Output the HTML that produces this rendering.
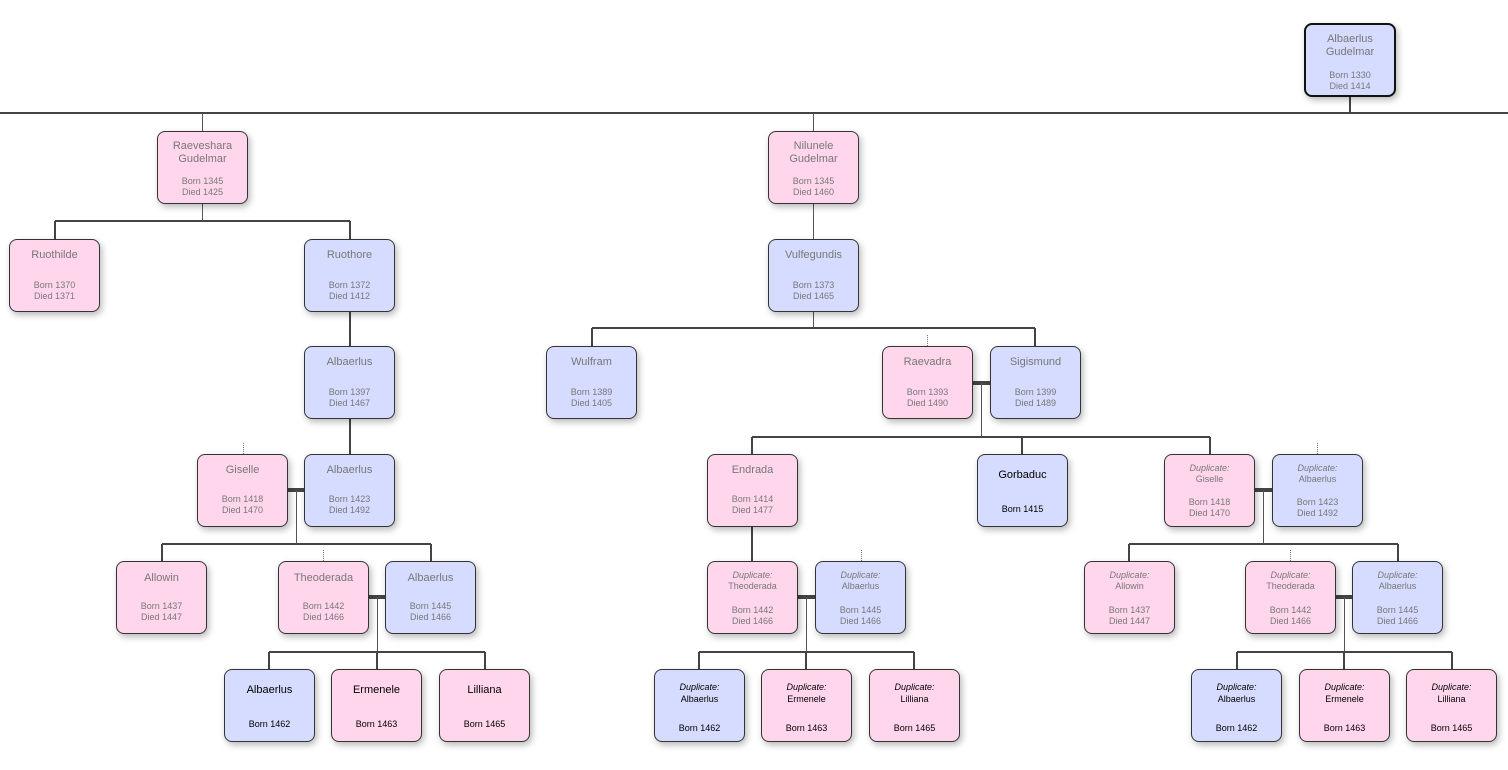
<!DOCTYPE html>
<html><head><meta charset="utf-8"><style>
body{margin:0;width:1508px;height:770px;background:#fff;position:relative;overflow:hidden;font-family:"Liberation Sans",sans-serif}
.b{position:absolute;width:89px;height:71px;border:1px solid #333;border-radius:8px;box-shadow:2px 3px 7px rgba(0,0,0,.28);color:#777;text-align:center;box-sizing:content-box}
.p{background:#ffd6ec}.u{background:#d6dcff}
.k{color:#000}
.b div{position:absolute;left:0;width:100%;line-height:12px;white-space:nowrap}
.n{font-size:11px}.d{font-size:9px}.i{font-size:9px;font-style:italic}
svg{position:absolute;left:0;top:0}
</style></head><body>
<svg width="1508" height="770">
<g stroke="#444" stroke-width="2" fill="none">
<path d="M0 113H1508M1350 97V113"/>
<path d="M55 221H350M55 221V239M350 221V239"/>
<path d="M350 312V346M350 419V454"/>
<path d="M592 328H1035M592 328V346M1035 328V346"/>
<path d="M752 437H1210M752 437V454M1022 437V454M1210 437V454"/>
<path d="M162 544H431M162 544V561M431 544V561"/>
<path d="M269 652H485M269 652V669M377 652V669M485 652V669"/>
<path d="M752 527V561"/>
<path d="M699 652H914M699 652V669M806 652V669M914 652V669"/>
<path d="M1129 544H1398M1129 544V561M1398 544V561"/>
<path d="M1237 652H1452M1237 652V669M1344 652V669M1452 652V669"/>
</g>
<g stroke="#444" stroke-width="4">
<path d="M973 383H990M288 490H304M368 597H385M798 597H815M1255 490H1272M1336 597H1352"/>
</g>
<g stroke="#555" stroke-width="1">
<path d="M202.5 113V131M813.5 113V131M202.5 204V221M813.5 204V239M813.5 312V328M981.5 383V437M296.5 490V544M377.5 597V652M806.5 597V652M1263.5 490V544M1344.5 597V652"/>
</g>
<g stroke="#777" stroke-width="1" stroke-dasharray="1,1">
<path d="M927.5 335V346M243.5 443V454M323.5 550V561M861.5 550V561M1317.5 443V454M1290.5 550V561"/>
</g>
</svg>

<div class="b u" style="left:1304px;top:23px;border:2px solid #111;width:88px;height:70px"><div class="n" style="top:8px">Albaerlus</div><div class="n" style="top:21px">Gudelmar</div><div class="d" style="top:44px">Born 1330</div><div class="d" style="top:55px">Died 1414</div></div>

<div class="b p" style="left:157px;top:131px"><div class="n" style="top:8px">Raeveshara</div><div class="n" style="top:21px">Gudelmar</div><div class="d" style="top:43px">Born 1345</div><div class="d" style="top:54px">Died 1425</div></div>
<div class="b p" style="left:768px;top:131px"><div class="n" style="top:8px">Nilunele</div><div class="n" style="top:21px">Gudelmar</div><div class="d" style="top:43px">Born 1345</div><div class="d" style="top:54px">Died 1460</div></div>

<div class="b p" style="left:9px;top:239px"><div class="n" style="top:9px">Ruothilde</div><div class="d" style="top:39px">Born 1370</div><div class="d" style="top:50px">Died 1371</div></div>
<div class="b u" style="left:304px;top:239px"><div class="n" style="top:9px">Ruothore</div><div class="d" style="top:39px">Born 1372</div><div class="d" style="top:50px">Died 1412</div></div>
<div class="b u" style="left:768px;top:239px"><div class="n" style="top:9px">Vulfegundis</div><div class="d" style="top:39px">Born 1373</div><div class="d" style="top:50px">Died 1465</div></div>

<div class="b u" style="left:304px;top:346px"><div class="n" style="top:9px">Albaerlus</div><div class="d" style="top:39px">Born 1397</div><div class="d" style="top:50px">Died 1467</div></div>
<div class="b u" style="left:546px;top:346px"><div class="n" style="top:9px">Wulfram</div><div class="d" style="top:39px">Born 1389</div><div class="d" style="top:50px">Died 1405</div></div>
<div class="b p" style="left:882px;top:346px"><div class="n" style="top:9px">Raevadra</div><div class="d" style="top:39px">Born 1393</div><div class="d" style="top:50px">Died 1490</div></div>
<div class="b u" style="left:990px;top:346px"><div class="n" style="top:9px">Sigismund</div><div class="d" style="top:39px">Born 1399</div><div class="d" style="top:50px">Died 1489</div></div>

<div class="b p" style="left:197px;top:454px"><div class="n" style="top:9px">Giselle</div><div class="d" style="top:38px">Born 1418</div><div class="d" style="top:49px">Died 1470</div></div>
<div class="b u" style="left:304px;top:454px"><div class="n" style="top:9px">Albaerlus</div><div class="d" style="top:38px">Born 1423</div><div class="d" style="top:49px">Died 1492</div></div>
<div class="b p" style="left:707px;top:454px"><div class="n" style="top:9px">Endrada</div><div class="d" style="top:38px">Born 1414</div><div class="d" style="top:49px">Died 1477</div></div>
<div class="b u k" style="left:977px;top:454px"><div class="n" style="top:14px">Gorbaduc</div><div class="d" style="top:48px">Born 1415</div></div>
<div class="b p" style="left:1164px;top:454px"><div class="i" style="top:7px">Duplicate:</div><div class="d" style="top:18px">Giselle</div><div class="d" style="top:41px">Born 1418</div><div class="d" style="top:52px">Died 1470</div></div>
<div class="b u" style="left:1272px;top:454px"><div class="i" style="top:7px">Duplicate:</div><div class="d" style="top:18px">Albaerlus</div><div class="d" style="top:41px">Born 1423</div><div class="d" style="top:52px">Died 1492</div></div>

<div class="b p" style="left:116px;top:561px"><div class="n" style="top:10px">Allowin</div><div class="d" style="top:38px">Born 1437</div><div class="d" style="top:49px">Died 1447</div></div>
<div class="b p" style="left:278px;top:561px"><div class="n" style="top:10px">Theoderada</div><div class="d" style="top:38px">Born 1442</div><div class="d" style="top:49px">Died 1466</div></div>
<div class="b u" style="left:385px;top:561px"><div class="n" style="top:10px">Albaerlus</div><div class="d" style="top:38px">Born 1445</div><div class="d" style="top:49px">Died 1466</div></div>
<div class="b p" style="left:707px;top:561px"><div class="i" style="top:7px">Duplicate:</div><div class="d" style="top:18px">Theoderada</div><div class="d" style="top:42px">Born 1442</div><div class="d" style="top:53px">Died 1466</div></div>
<div class="b u" style="left:815px;top:561px"><div class="i" style="top:7px">Duplicate:</div><div class="d" style="top:18px">Albaerlus</div><div class="d" style="top:42px">Born 1445</div><div class="d" style="top:53px">Died 1466</div></div>
<div class="b p" style="left:1084px;top:561px"><div class="i" style="top:7px">Duplicate:</div><div class="d" style="top:18px">Allowin</div><div class="d" style="top:42px">Born 1437</div><div class="d" style="top:53px">Died 1447</div></div>
<div class="b p" style="left:1245px;top:561px"><div class="i" style="top:7px">Duplicate:</div><div class="d" style="top:18px">Theoderada</div><div class="d" style="top:42px">Born 1442</div><div class="d" style="top:53px">Died 1466</div></div>
<div class="b u" style="left:1352px;top:561px"><div class="i" style="top:7px">Duplicate:</div><div class="d" style="top:18px">Albaerlus</div><div class="d" style="top:42px">Born 1445</div><div class="d" style="top:53px">Died 1466</div></div>

<div class="b u k" style="left:224px;top:669px"><div class="n" style="top:14px">Albaerlus</div><div class="d" style="top:48px">Born 1462</div></div>
<div class="b p k" style="left:331px;top:669px"><div class="n" style="top:14px">Ermenele</div><div class="d" style="top:48px">Born 1463</div></div>
<div class="b p k" style="left:439px;top:669px"><div class="n" style="top:14px">Lilliana</div><div class="d" style="top:48px">Born 1465</div></div>
<div class="b u k" style="left:654px;top:669px"><div class="i" style="top:11px">Duplicate:</div><div class="d" style="top:23px">Albaerlus</div><div class="d" style="top:52px">Born 1462</div></div>
<div class="b p k" style="left:761px;top:669px"><div class="i" style="top:11px">Duplicate:</div><div class="d" style="top:23px">Ermenele</div><div class="d" style="top:52px">Born 1463</div></div>
<div class="b p k" style="left:869px;top:669px"><div class="i" style="top:11px">Duplicate:</div><div class="d" style="top:23px">Lilliana</div><div class="d" style="top:52px">Born 1465</div></div>
<div class="b u k" style="left:1191px;top:669px"><div class="i" style="top:11px">Duplicate:</div><div class="d" style="top:23px">Albaerlus</div><div class="d" style="top:52px">Born 1462</div></div>
<div class="b p k" style="left:1299px;top:669px"><div class="i" style="top:11px">Duplicate:</div><div class="d" style="top:23px">Ermenele</div><div class="d" style="top:52px">Born 1463</div></div>
<div class="b p k" style="left:1406px;top:669px"><div class="i" style="top:11px">Duplicate:</div><div class="d" style="top:23px">Lilliana</div><div class="d" style="top:52px">Born 1465</div></div>
</body></html>
